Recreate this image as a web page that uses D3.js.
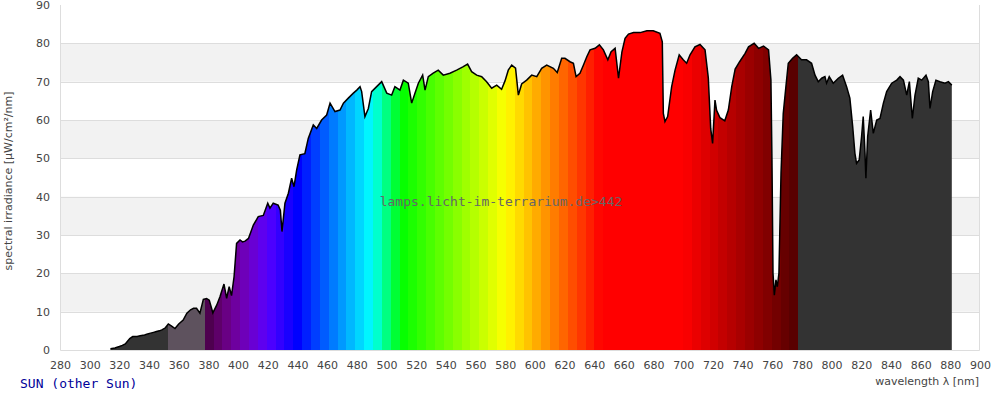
<!DOCTYPE html>
<html>
<head>
<meta charset="utf-8">
<script src="https://cdn.jsdelivr.net/npm/d3@7"></script>
<style>
  html, body { margin: 0; padding: 0; background: #ffffff; }
  svg { display: block; }
</style>
</head>
<body>
<svg id="chart" width="1000" height="400"></svg>
<script>
// ---------------- data ----------------
const wavelengths = [
  314,317,320,322,324,327,329,332,334,337,339,341,343,345,347,349,351,353,355,357.5,
  360,363,365.5,368,370,372,374.3,376.6,378.8,380.6,383,385.6,387.8,390.5,392.3,394,395.6,397.3,399,401.3,
  403,404.7,407,410.3,413.6,417,420,421.5,423.7,427,428.5,429.6,431.6,433.9,436.1,437.7,439.5,441.7,445,447.3,
  450.7,453,456.3,459.7,462,465.3,468.7,471,474.3,477.7,480,482.2,483.3,485.5,487.8,490,493.4,496.8,500.2,503.5,
  505.7,509.1,511.4,514.7,517,519.2,521.5,524.4,526,528.2,531.5,534.9,538.3,542.8,547.3,551.8,554.7,557.4,560.8,564.2,
  567.5,570.9,574.3,577.6,579.9,582.1,584.4,587,588.9,591.1,594.5,597.9,601.3,604.6,608,612.5,615.1,618.1,620.3,623.7,
  626,627.8,630.4,632.7,635,637.2,640.6,643.5,646.2,649.2,651.4,654.1,656.4,658.7,660.8,663.1,666.5,671,675.5,679.8,
  684.3,685.9,686.6,687.7,689.5,692.2,694.5,697.3,700,702.3,704.6,707.9,711.3,714.7,716.9,718.5,719.8,721.4,722.5,724.8,
  728,730.4,732.7,735,738,741.7,744,747.8,750.8,754.1,757.5,759.1,759.8,760.5,761.4,762.5,763.4,764.5,765.9,767.4,
  769.2,770.8,773.7,776.4,779.7,783.1,786.5,788.8,791,793.3,795.5,796.6,798.4,801.1,804.5,807.4,810.1,812.3,814.2,815.7,
  816.8,818.6,820.2,821.3,822.5,823.1,824.3,826.3,828.1,830.4,832.6,834.9,837.1,840.5,843.9,846.1,848.4,850.6,852.4,854.4,
  856.2,858.4,860.7,863.6,865.2,866.3,868.1,870.3,873,876.4,878.7,881
];
const irradiance = [
  0.3,0.5,0.9,1.2,1.6,3.0,3.5,3.5,3.7,3.9,4.2,4.4,4.6,4.8,5.0,5.3,5.8,6.8,6.3,5.6,
  6.8,7.8,9.6,10.5,10.9,10.9,9.6,13.2,13.4,13.0,9.7,11.7,13.9,17.2,13.5,16.5,14.2,19.1,27.8,28.7,
  28.2,28.4,29.1,32.6,34.8,35.1,38.3,37.0,38.3,37.8,36.5,30.9,38.3,40.9,44.8,42.6,47.0,50.9,51.2,55.2,
  58.7,57.8,60.0,61.3,64.4,62.2,62.6,64.4,65.7,67.0,67.8,68.7,67.4,60.9,63.0,67.4,68.7,70.0,67.0,66.5,
  68.7,67.8,70.4,69.6,64.4,67.0,69.6,71.7,67.8,71.3,72.2,73.0,71.7,72.2,73.0,73.9,74.6,72.6,71.7,71.3,
  70.0,68.3,69.1,68.0,70.2,73.0,74.3,73.5,66.5,69.4,70.4,71.7,71.3,73.5,74.3,73.5,72.4,76.1,76.1,75.2,
  74.8,71.3,72.2,74.3,76.5,78.3,78.7,79.6,78.3,75.7,77.8,78.7,70.9,77.8,81.3,82.4,82.8,82.8,83.3,83.3,
  82.6,80.4,61.7,59.6,60.9,68.7,73.0,77.0,75.7,74.8,77.0,79.1,79.7,78.3,71.0,57.8,53.9,65.2,62.5,60.6,
  59.8,62.6,68.7,73.3,75.2,77.4,79.1,80.0,78.7,79.3,78.3,70.4,49.6,20.0,14.3,18.3,16.5,20.0,46.1,61.7,
  68.7,74.8,76.1,77.0,75.7,75.7,74.8,71.7,70.0,70.9,71.3,69.6,71.3,69.6,70.9,71.7,68.7,65.7,58.3,51.3,
  48.7,49.6,55.7,60.9,51.3,44.8,55.7,62.6,56.5,60.0,60.4,64.4,67.4,69.6,70.4,71.3,70.4,66.5,70.0,60.4,
  66.5,70.9,70.4,71.7,70.0,63.0,67.4,70.4,70.0,69.6,70.0,69.1
];
const xTicks = [280,300,320,340,360,380,400,420,440,460,480,500,520,540,560,580,600,620,640,660,680,700,720,740,760,780,800,820,840,860,880,900];
const yTicks = [0,10,20,30,40,50,60,70,80,90];
const shadedBands = [[10,20],[30,40],[50,60],[70,80]];
const title = "SUN (other Sun)";
const watermark = "lamps.licht-im-terrarium.de>442";
const xLabel = "wavelength \u03bb [nm]";
const yLabel = "spectral irradiance [\u00b5W/cm\u00b2/nm]";

// ---------------- layout ----------------
const L = 60, R = 980, T = 5, B = 350;
const svg = d3.select("#chart");
const x = d3.scaleLinear().domain([280, 900]).range([L, R]);
const y = d3.scaleLinear().domain([0, 90]).range([B, T]);
const data = wavelengths.map((w, i) => ({ w, v: irradiance[i] }));

// background bands
svg.append("g").selectAll("rect").data(shadedBands).join("rect")
  .attr("x", L).attr("width", R - L)
  .attr("y", d => y(d[1])).attr("height", d => y(d[0]) - y(d[1]))
  .attr("fill", "#f2f2f2");

// grid lines
svg.append("g").selectAll("line").data(yTicks.filter(t => t > 0 && t < 90)).join("line")
  .attr("x1", L).attr("x2", R)
  .attr("y1", d => Math.round(y(d)) + 0.5).attr("y2", d => Math.round(y(d)) + 0.5)
  .attr("stroke", "#dddddd").attr("stroke-width", 1);

// frame (left, right, bottom)
svg.append("path")
  .attr("d", `M${L + 0.5},${T}V${B + 0.5}H${R - 0.5}V${T}`)
  .attr("fill", "none").attr("stroke", "#dddddd").attr("stroke-width", 1);

// spectrum colour for a wavelength (linear, no gamma)
function specColor(w) {
  let r = 0, g = 0, b = 0;
  if (w < 440) { r = -(w - 440) / 60; b = 1; }
  else if (w < 490) { g = (w - 440) / 50; b = 1; }
  else if (w < 510) { g = 1; b = -(w - 510) / 20; }
  else if (w < 580) { r = (w - 510) / 70; g = 1; }
  else if (w < 645) { r = 1; g = -(w - 645) / 65; }
  else { r = 1; }
  let f = 1;
  if (w < 420) f = 0.3 + 0.7 * (w - 380) / 40;
  else if (w > 700) f = 0.3 + 0.7 * (780 - w) / 80;
  const c = v => Math.round(255 * v * f);
  return `rgb(${c(r)},${c(g)},${c(b)})`;
}

// colour bands
const bands = [];
bands.push({ a: 280, b: 352.5, color: "#333333" });
bands.push({ a: 352.5, b: 377.5, color: "#5e525e" });
const nB = 67, bw = 400 / nB;
for (let i = 0; i < nB; i++) {
  const a = 377.5 + i * bw;
  bands.push({ a, b: a + bw, color: specColor(a + bw / 2) });
}
bands.push({ a: 777.5, b: 900, color: "#333333" });

const area = d3.area().x(d => x(d.w)).y0(y(0)).y1(d => y(d.v));
svg.append("clipPath").attr("id", "specClip")
  .append("path").attr("d", area(data));

svg.append("g").attr("clip-path", "url(#specClip)")
  .selectAll("rect").data(bands).join("rect")
  .attr("x", d => x(d.a)).attr("width", d => x(d.b) - x(d.a) + 0.6)
  .attr("y", T).attr("height", B - T)
  .attr("fill", d => d.color)
  .attr("shape-rendering", "crispEdges");

// outline
const line = d3.line().x(d => x(d.w)).y(d => y(d.v));
svg.append("path").attr("d", line(data))
  .attr("fill", "none").attr("stroke", "#000").attr("stroke-width", 1.5)
  .attr("stroke-linejoin", "miter");

// watermark
svg.append("text").attr("x", 501).attr("y", 206)
  .attr("text-anchor", "middle")
  .attr("font-family", "DejaVu Sans Mono, monospace").attr("font-size", 13)
  .attr("fill", "#666666").text(watermark);

// axes
const xAxis = svg.append("g").attr("transform", `translate(0,${B})`)
  .call(d3.axisBottom(x).tickValues(xTicks).tickSize(0).tickPadding(11).tickFormat(d3.format("d")));
xAxis.select(".domain").remove();
xAxis.selectAll("text").attr("font-family", "DejaVu Sans, sans-serif").attr("font-size", 11).attr("fill", "#444");

const yAxis = svg.append("g").attr("transform", `translate(${L},0)`)
  .call(d3.axisLeft(y).tickValues(yTicks).tickSize(0).tickPadding(10).tickFormat(d3.format("d")));
yAxis.select(".domain").remove();
yAxis.selectAll("text").attr("font-family", "DejaVu Sans, sans-serif").attr("font-size", 11).attr("fill", "#444");

// labels
svg.append("text").attr("x", 979).attr("y", 385).attr("text-anchor", "end")
  .attr("font-family", "DejaVu Sans, sans-serif").attr("font-size", 11).attr("fill", "#444")
  .text(xLabel);
svg.append("text").attr("transform", "translate(12,181) rotate(-90)").attr("text-anchor", "middle")
  .attr("font-family", "DejaVu Sans, sans-serif").attr("font-size", 11).attr("fill", "#444")
  .text(yLabel);
svg.append("text").attr("x", 20).attr("y", 388)
  .attr("font-family", "DejaVu Sans Mono, monospace").attr("font-size", 13).attr("fill", "#000099")
  .text(title);
</script>
</body>
</html>
